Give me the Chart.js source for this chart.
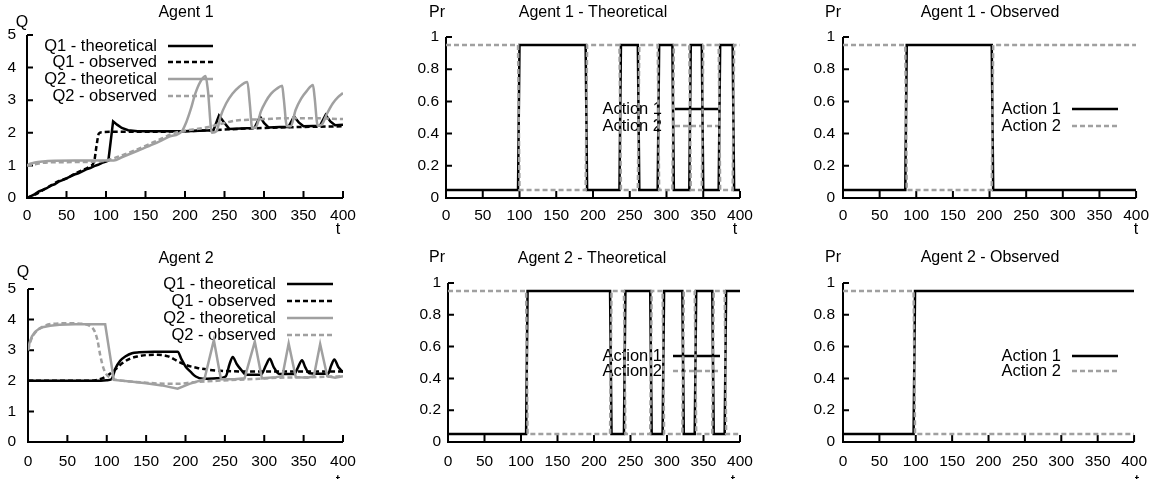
<!DOCTYPE html>
<html>
<head>
<meta charset="utf-8">
<script src="https://cdn.jsdelivr.net/npm/chart.js@4.4.1/dist/chart.umd.min.js"></script>
<style>
  body { margin: 0; background: #fff; }
  #wrap { position: relative; width: 1157px; height: 479px; overflow: hidden; background: #fff; }
  #wrap canvas { position: absolute; }
</style>
</head>
<body>
<div id="wrap"></div>
<script>
// =========================
// Data
// =========================
const xTicksStep = 50;

// Agent 1 - Q values
const a1Q1TheoT = [0, 5, 10, 15, 20, 25, 30, 35, 40, 45, 50, 55, 60, 65, 70, 75, 80, 85, 90, 95, 100, 103, 109, 114, 120, 128, 140, 170, 200, 236, 243, 250, 256, 270, 288, 295, 300, 306, 320, 331, 338, 344, 350, 362, 371, 378, 384, 390, 400];
const a1Q1TheoV = [0, 0.06, 0.12, 0.2, 0.25, 0.3, 0.38, 0.42, 0.5, 0.55, 0.6, 0.66, 0.72, 0.76, 0.82, 0.88, 0.92, 0.98, 1.02, 1.08, 1.12, 1.15, 2.35, 2.25, 2.15, 2.08, 2.05, 2.05, 2.05, 2.08, 2.53, 2.3, 2.12, 2.13, 2.15, 2.5, 2.3, 2.16, 2.18, 2.18, 2.5, 2.32, 2.2, 2.21, 2.22, 2.55, 2.35, 2.23, 2.25];
const a1Q1ObsT = [0, 10, 20, 30, 40, 50, 60, 70, 80, 85, 88, 91, 95, 110, 150, 200, 250, 300, 350, 400];
const a1Q1ObsV = [0, 0.1, 0.24, 0.38, 0.52, 0.6, 0.74, 0.85, 0.98, 1.12, 1.6, 1.98, 2.02, 2.03, 2.03, 2.05, 2.1, 2.15, 2.18, 2.2];
const a1Q2TheoT = [0, 4, 10, 20, 35, 60, 100, 110, 120, 140, 160, 180, 196, 202, 207, 213, 219, 226, 229, 234, 240, 245, 252, 260, 268, 279, 282, 285, 290, 296, 302, 309, 316, 323, 325, 329, 334, 340, 347, 354, 362, 364, 368, 373, 380, 387, 394, 400];
const a1Q2TheoV = [1.0, 1.05, 1.09, 1.12, 1.14, 1.15, 1.15, 1.15, 1.25, 1.45, 1.65, 1.88, 2.05, 2.35, 2.7, 3.2, 3.55, 3.74, 3.3, 2.0, 2.05, 2.5, 2.9, 3.2, 3.4, 3.56, 2.9, 2.15, 2.18, 2.65, 2.95, 3.2, 3.35, 3.44, 3.05, 2.2, 2.2, 2.7, 3.05, 3.28, 3.47, 3.1, 2.22, 2.25, 2.6, 2.9, 3.1, 3.22];
const a1Q2ObsT = [0, 8, 20, 50, 90, 100, 110, 130, 150, 170, 190, 210, 230, 250, 265, 280, 300, 330, 360, 400];
const a1Q2ObsV = [1.0, 1.02, 1.08, 1.1, 1.12, 1.15, 1.22, 1.4, 1.6, 1.82, 2.02, 2.1, 2.18, 2.3, 2.38, 2.4, 2.42, 2.45, 2.45, 2.42];

// Agent 2 - Q values
const a2Q1TheoT = [0, 90, 100, 106, 111, 117, 124, 132, 141, 160, 190, 195, 200, 207, 213, 222, 240, 251, 256, 260, 265, 271, 277, 296, 302, 307, 312, 319, 338, 343, 348, 352, 357, 381, 385, 389, 394, 400];
const a2Q1TheoV = [2.0, 2.0, 2.02, 2.05, 2.4, 2.65, 2.8, 2.9, 2.93, 2.95, 2.95, 2.7, 2.47, 2.28, 2.14, 2.07, 2.08, 2.14, 2.55, 2.78, 2.55, 2.35, 2.2, 2.2, 2.5, 2.72, 2.45, 2.22, 2.22, 2.45, 2.67, 2.45, 2.25, 2.23, 2.5, 2.7, 2.45, 2.28];
const a2Q1ObsT = [0, 80, 90, 100, 110, 120, 130, 140, 150, 165, 178, 190, 200, 215, 230, 250, 300, 400];
const a2Q1ObsV = [2.0, 2.0, 2.04, 2.15, 2.35, 2.58, 2.73, 2.8, 2.84, 2.85, 2.8, 2.64, 2.52, 2.42, 2.36, 2.32, 2.3, 2.3];
const a2Q2TheoT = [0, 2, 5, 9, 14, 20, 28, 40, 60, 98, 109, 130, 150, 170, 190, 205, 224, 236, 245, 262, 275, 288, 297, 315, 323, 331, 340, 355, 363, 371, 380, 390, 400];
const a2Q2TheoV = [3.0, 3.25, 3.45, 3.6, 3.7, 3.76, 3.8, 3.83, 3.85, 3.85, 2.03, 1.98, 1.92, 1.85, 1.74, 1.9, 2.05, 3.33, 2.05, 2.05, 2.08, 3.28, 2.08, 2.12, 2.15, 3.22, 2.12, 2.1, 2.15, 3.2, 2.15, 2.1, 2.15];
const a2Q2ObsT = [0, 4, 10, 18, 30, 50, 70, 78, 84, 88, 92, 96, 100, 106, 115, 130, 160, 190, 210, 240, 280, 320, 360, 400];
const a2Q2ObsV = [3.0, 3.35, 3.6, 3.76, 3.86, 3.88, 3.86, 3.8, 3.65, 3.35, 2.8, 2.4, 2.2, 2.08, 2.02, 1.98, 1.92, 1.9, 1.95, 2.0, 2.05, 2.1, 2.12, 2.15];

// Action probabilities
const a1TheoPrT = [0, 98, 100, 190, 192, 236, 238, 261, 263, 288, 290, 308, 310, 331, 333, 348, 350, 371, 373, 390, 392, 400];
const a1TheoAct1 = [0.05, 0.05, 0.95, 0.95, 0.05, 0.05, 0.95, 0.95, 0.05, 0.05, 0.95, 0.95, 0.05, 0.05, 0.95, 0.95, 0.05, 0.05, 0.95, 0.95, 0.05, 0.05];
const a1TheoAct2 = [0.95, 0.95, 0.05, 0.05, 0.95, 0.95, 0.05, 0.05, 0.95, 0.95, 0.05, 0.05, 0.95, 0.95, 0.05, 0.05, 0.95, 0.95, 0.05, 0.05, 0.95, 0.95];
const a2TheoPrT = [0, 107, 109, 222, 224, 241, 243, 277, 279, 294, 296, 321, 323, 338, 340, 362, 364, 379, 381, 400];
const a2TheoAct1 = [0.05, 0.05, 0.95, 0.95, 0.05, 0.05, 0.95, 0.95, 0.05, 0.05, 0.95, 0.95, 0.05, 0.05, 0.95, 0.95, 0.05, 0.05, 0.95, 0.95];
const a2TheoAct2 = [0.95, 0.95, 0.05, 0.05, 0.95, 0.95, 0.05, 0.05, 0.95, 0.95, 0.05, 0.05, 0.95, 0.95, 0.05, 0.05, 0.95, 0.95, 0.05, 0.05];
const a1ObsPrT = [0, 85, 87, 203, 205, 400];
const a1ObsAct1 = [0.05, 0.05, 0.95, 0.95, 0.05, 0.05];
const a1ObsAct2 = [0.95, 0.95, 0.05, 0.05, 0.95, 0.95];
const a2ObsPrT = [0, 97, 99, 400];
const a2ObsAct1 = [0.05, 0.05, 0.95, 0.95];
const a2ObsAct2 = [0.95, 0.95, 0.05, 0.05];

// =========================
// Styles
// =========================
const BLACK = "#000000";
const GRAY = "#a0a0a0";
const DASH = [5, 3];
const FONT = '"Liberation Sans", Arial, Helvetica, sans-serif';

Chart.defaults.font.family = FONT;
Chart.defaults.font.size = 15.5;
Chart.defaults.color = "#000";

const pts = (ts, vs) => ts.map((t, i) => ({ x: t, y: vs[i] }));

function series(label, ts, vs, color, dashed, smooth, order) {
  return {
    label,
    data: pts(ts, vs),
    borderColor: color,
    borderWidth: 2.5,
    borderDash: dashed ? DASH : [],
    pointRadius: 0,
    fill: false,
    tension: 0,
    cubicInterpolationMode: smooth ? "monotone" : "default",
    order,
  };
}

// =========================
// Gnuplot-ish decorations: axes, inward ticks, labels, legend
// =========================
const decor = {
  id: "decor",
  beforeDatasetsDraw(chart, args, o) {
    const { ctx, chartArea: a, scales } = chart;
    const x = scales.x, y = scales.y;
    ctx.save();
    ctx.strokeStyle = BLACK;
    ctx.lineWidth = 2;
    ctx.setLineDash([]);
    ctx.beginPath();
    ctx.moveTo(a.left, a.top);
    ctx.lineTo(a.left, a.bottom);
    ctx.lineTo(a.right, a.bottom);
    x.ticks.forEach((t) => {
      const px = x.getPixelForValue(t.value);
      ctx.moveTo(px, a.bottom);
      ctx.lineTo(px, a.bottom - 7);
    });
    y.ticks.forEach((t) => {
      const py = y.getPixelForValue(t.value);
      ctx.moveTo(a.left, py);
      ctx.lineTo(a.left + 6, py);
    });
    ctx.stroke();

    ctx.fillStyle = BLACK;
    ctx.font = "16px " + FONT;
    ctx.textBaseline = "middle";
    ctx.textAlign = "center";
    ctx.fillText(o.title, o.titlePos[0], o.titlePos[1]);
    ctx.fillText(o.yLabel, o.yLabelPos[0], o.yLabelPos[1]);
    ctx.fillText("t", o.tPos[0], o.tPos[1]);

    // legend: right-aligned text, then a line sample
    ctx.font = "16.5px " + FONT;
    ctx.textAlign = "right";
    chart.data.datasets.forEach((ds, i) => {
      const ry = o.legend.rows[i];
      ctx.fillText(ds.label, o.legend.right, ry);
      ctx.beginPath();
      ctx.strokeStyle = ds.borderColor;
      ctx.lineWidth = ds.borderWidth;
      ctx.setLineDash(ds.borderDash);
      ctx.moveTo(o.legend.x1, ry);
      ctx.lineTo(o.legend.x2, ry);
      ctx.stroke();
    });
    ctx.restore();
  },
};

// =========================
// Panels
// =========================
const wrap = document.getElementById("wrap");

function panel(p) {
  const c = document.createElement("canvas");
  c.width = p.box[2];
  c.height = p.box[3];
  c.style.left = p.box[0] + "px";
  c.style.top = p.box[1] + "px";
  c.style.width = p.box[2] + "px";
  c.style.height = p.box[3] + "px";
  wrap.appendChild(c);

  new Chart(c, {
    type: "line",
    data: { datasets: p.datasets },
    options: {
      responsive: false,
      animation: false,
      devicePixelRatio: 1,
      layout: { padding: { top: p.pad[0], right: p.pad[1], left: 0, bottom: 0 } },
      plugins: {
        legend: { display: false },
        tooltip: { enabled: false },
        decor: p.decor,
      },
      scales: {
        x: {
          type: "linear",
          min: 0,
          max: 400,
          grid: { display: false, drawTicks: false },
          border: { display: false },
          ticks: { stepSize: xTicksStep, padding: p.xpad, maxRotation: 0, autoSkip: false },
          afterFit: (s) => { s.height = p.axis[1]; },
        },
        y: {
          type: "linear",
          min: 0,
          max: p.ymax,
          grid: { display: false, drawTicks: false },
          border: { display: false },
          ticks: {
            stepSize: p.ystep,
            padding: p.ypad,
            autoSkip: false,
            callback: (v) => String(+v.toFixed(1)),
          },
          afterFit: (s) => { s.width = p.axis[0]; },
        },
      },
    },
    plugins: [decor],
  });
}

function qSets(q1t, q1o, q2t, q2o) {
  return [
    series("Q1 - theoretical", q1t[0], q1t[1], BLACK, false, q1t[2], 4),
    series("Q1 - observed", q1o[0], q1o[1], BLACK, true, true, 3),
    series("Q2 - theoretical", q2t[0], q2t[1], GRAY, false, q2t[2], 2),
    series("Q2 - observed", q2o[0], q2o[1], GRAY, true, true, 1),
  ];
}

function prSets(ts, act1, act2) {
  return [
    series("Action 1", ts, act1, BLACK, false, false, 2),
    series("Action 2", ts, act2, GRAY, true, false, 1),
  ];
}

// Agent 1 - Q
panel({
  box: [0, 0, 390, 240], pad: [35, 47], axis: [27, 42], ymax: 5, ystep: 1, ypad: 11, xpad: 8,
  datasets: qSets([a1Q1TheoT, a1Q1TheoV, false], [a1Q1ObsT, a1Q1ObsV], [a1Q2TheoT, a1Q2TheoV, true], [a1Q2ObsT, a1Q2ObsV]),
  decor: {
    title: "Agent 1", titlePos: [186, 13], yLabel: "Q", yLabelPos: [22, 23], tPos: [338, 230],
    legend: { right: 157, x1: 168, x2: 213, rows: [46, 62, 79, 96] },
  },
});

// Agent 2 - Q
panel({
  box: [0, 240, 390, 239], pad: [49, 47], axis: [28, 37], ymax: 5, ystep: 1, ypad: 12, xpad: 10,
  datasets: qSets([a2Q1TheoT, a2Q1TheoV, true], [a2Q1ObsT, a2Q1ObsV], [a2Q2TheoT, a2Q2TheoV, false], [a2Q2ObsT, a2Q2ObsV]),
  decor: {
    title: "Agent 2", titlePos: [186, 19], yLabel: "Q", yLabelPos: [23, 33], tPos: [338, 242],
    legend: { right: 276, x1: 287, x2: 333, rows: [44, 61, 78, 95] },
  },
});

// Agent 1 - Theoretical
panel({
  box: [390, 0, 390, 240], pad: [37, 40], axis: [56, 42], ymax: 1, ystep: 0.2, ypad: 7, xpad: 8,
  datasets: prSets(a1TheoPrT, a1TheoAct1, a1TheoAct2),
  decor: {
    title: "Agent 1 - Theoretical", titlePos: [203, 13], yLabel: "Pr", yLabelPos: [47, 13], tPos: [345, 230],
    legend: { right: 272, x1: 285, x2: 330, rows: [109, 126] },
  },
});

// Agent 2 - Theoretical
panel({
  box: [390, 240, 390, 239], pad: [43, 40], axis: [58, 37], ymax: 1, ystep: 0.2, ypad: 7, xpad: 10,
  datasets: prSets(a2TheoPrT, a2TheoAct1, a2TheoAct2),
  decor: {
    title: "Agent 2 - Theoretical", titlePos: [202, 19], yLabel: "Pr", yLabelPos: [47, 18], tPos: [343, 242],
    legend: { right: 272, x1: 283, x2: 330, rows: [116, 131] },
  },
});

// Agent 1 - Observed
panel({
  box: [780, 0, 377, 240], pad: [37, 19], axis: [63, 42], ymax: 1, ystep: 0.2, ypad: 8, xpad: 8,
  datasets: prSets(a1ObsPrT, a1ObsAct1, a1ObsAct2),
  decor: {
    title: "Agent 1 - Observed", titlePos: [210, 13], yLabel: "Pr", yLabelPos: [53, 13], tPos: [356, 230],
    legend: { right: 281, x1: 292, x2: 338, rows: [109, 126] },
  },
});

// Agent 2 - Observed
panel({
  box: [780, 240, 377, 239], pad: [43, 19], axis: [63, 37], ymax: 1, ystep: 0.2, ypad: 8, xpad: 10,
  datasets: prSets(a2ObsPrT, a2ObsAct1, a2ObsAct2),
  decor: {
    title: "Agent 2 - Observed", titlePos: [210, 18], yLabel: "Pr", yLabelPos: [53, 18], tPos: [357, 242],
    legend: { right: 281, x1: 292, x2: 338, rows: [116, 131] },
  },
});
</script>
</body>
</html>
